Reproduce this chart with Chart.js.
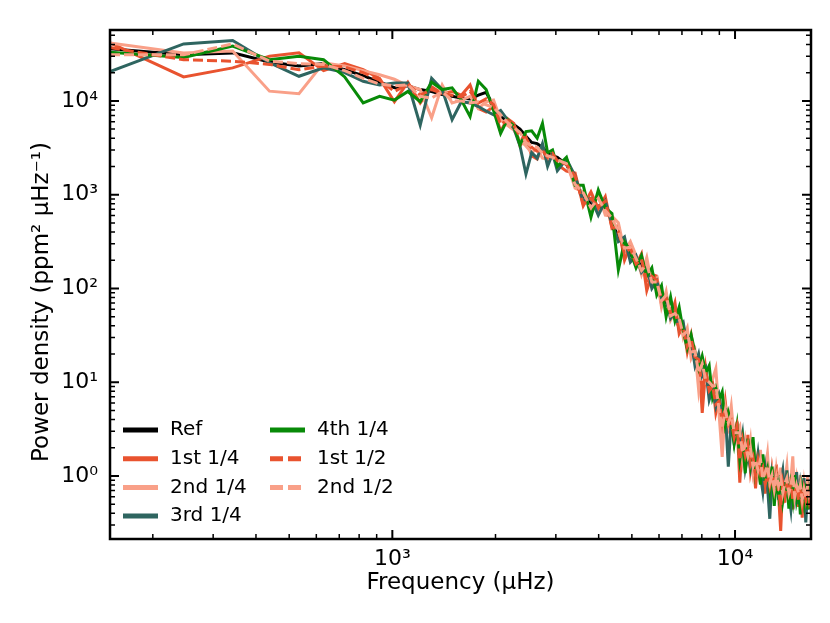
<!DOCTYPE html>
<html>
<head>
<meta charset="utf-8">
<script src="https://cdn.jsdelivr.net/npm/chart.js@4.4.1/dist/chart.umd.min.js"></script>
<style>
  body { margin: 0; background: #fff; }
  #boite { width: 830px; height: 623px; }
</style>
</head>
<body>
<div id="boite"><canvas id="chart" width="830" height="623"></canvas></div>
<script>
// frequences (microHz)
const freq = [150,246,342,438,534,630,726,822,918,1014,1110,1206,1302,1398,1494,1590,1686,1782,1878,1974,2070,2166,2262,2358,2454,2550,2646,2742,2838,2934,3030,
  3222,3414,3606,3798,3990,4182,4374,4566,4758,4950,5142,5334,5526,5718,5910,6102,6294,6486,6678,6870,7062,7254,7446,7638,7830,8022,8214,8406,8598,8790,8982,
  9174,9366,9558,9750,9942,10134,10326,10518,10710,10902,11094,11286,11478,11670,11862,12054,12246,12438,12630,12822,13014,13206,13398,13590,13782,13974,
  14166,14358,14550,14742,14934,15126,15318,15510,15702,15894,16086,16278,16470,16662];

const ref = [36000,31000,32500,26000,23500,25000,21500,18600,15800,13800,14500,13200,12600,11700,11200,10700,10500,11500,12300,8900,6800,6000,5600,5000,4200,3600,3500,3200,2800,2600,2500,
  2100,1350,980,794,759,724,537,339,288,229,204,174,155,123,110,85,72,56,51,43,35,31,25,20,16,13.5,11,9.3,7.4,6.8,5.6,5.1,4.3,4.1,3.5,3.2,2.6,2.45,2.1,1.95,
  1.7,1.62,1.41,1.35,1.2,1.17,1.05,1.05,0.95,0.95,0.87,0.87,0.81,0.81,0.76,0.78,0.72,0.74,0.69,0.71,0.68,0.69,0.65,0.68,0.63,0.66,0.62,0.65,0.60,0.63,0.62];

const quart1 = [41500,18000,22500,30000,32500,21000,25000,21500,17400,9800,15800,9500,14100,12000,12600,11500,14800,8300,7600,8700,4700,6500,5750,3300,4100,2600,2400,3300,2250,2800,2100,
  1780,1700,760,1070,710,955,437,468,200,288,178,234,95,141,135,68,85,51,71,33,40,21,32,18,19,4.7,14,7.6,10,4.7,6.5,3.2,6.2,3.2,4.0,2.4,3.8,0.85,2.6,1.5,
  2.75,1.12,1.6,0.74,1.7,1.02,1.35,0.65,1.1,0.66,1.17,0.76,1.32,0.63,0.26,0.85,0.52,0.91,0.63,0.98,0.44,0.68,0.87,0.47,0.72,0.36,0.79,0.52,0.87,0.47,0.69];

const quart2 = [41500,32500,34000,12700,11900,25500,23500,21000,19000,17000,14500,13200,6600,14800,9500,10200,11200,8300,9800,10200,6300,5500,4900,3800,3300,2800,3100,2450,2400,2500,2300,
  2240,1170,1070,676,1050,603,589,501,251,316,224,141,214,112,129,63,93,46,56,55,30,38,18,22,8.3,17,10,11,10.7,14,4.6,1.6,5.5,3.5,5.6,2.6,3.0,3.4,1.5,2.4,
  1.55,2.4,1.1,1.6,1.1,1.9,0.85,1.15,1.74,0.78,1.12,0.60,1.17,0.79,1.23,0.60,0.89,1.29,0.63,0.91,1.62,0.56,0.93,0.69,1.02,0.51,0.83,0.56,0.98,0.65,0.78];

const quart3 = [20500,40500,44000,25500,18300,22500,20000,16200,14800,15500,15500,5500,17400,13200,6300,9800,9500,8700,7800,7100,7900,6300,5100,3300,1660,2800,2450,3500,2000,2750,1800,
  2400,1580,851,912,603,851,490,316,355,191,224,148,170,100,120,79,79,48,56,37,43,24,28,15,20,11.7,14,6.5,8.5,5.5,7.2,4.5,4.9,1.26,4.0,2.24,3.0,1.9,2.8,1.2,
  1.74,1.2,1.8,1.1,1.74,1.02,0.68,1.23,0.78,0.35,1.0,0.71,1.1,0.56,0.87,1.15,0.59,1.15,0.63,0.44,0.87,0.60,1.1,0.50,0.81,0.58,0.95,0.32,0.69,0.44,0.74];

const quart4 = [33000,29000,38500,27500,30000,27500,18000,9500,11200,10200,12600,9800,15800,13200,13800,10200,6800,16200,13200,7900,4500,6300,5400,3400,4700,4800,4000,5750,2800,3000,2000,
  2500,1260,1260,575,1120,724,631,158,316,251,166,224,135,166,85,107,50,81,45,63,35,23,32,21,14,19,12.6,15,6.8,8.7,6.5,7.9,3.5,4.8,3.7,2.2,3.5,1.5,2.4,1.07,
  2.5,1.4,2.6,1.05,1.4,0.81,1.7,0.91,1.17,0.71,1.26,0.48,0.93,0.63,1.02,0.54,0.74,0.91,0.45,0.78,0.55,1.02,0.59,0.83,0.39,0.72,0.52,0.83,0.44,0.69,0.55];

const moitie1 = [37000,27500,26500,24500,21500,23500,23000,20000,16600,12600,15100,11500,13200,12000,11500,11000,12600,9500,10500,9100,5600,6200,5500,4200,4000,3200,2900,2950,2500,2750,2300,
  2100,1580,794,912,741,851,457,407,234,269,182,204,120,135,123,74,79,54,60,36,38,24,29,18.6,17.4,8.3,12.9,8.1,9.1,5.8,6.3,3.8,5.2,3.5,3.9,2.6,3.4,1.5,2.4,1.66,
  2.2,1.32,1.58,1.0,1.48,1.07,1.23,0.81,1.07,0.78,1.02,0.78,1.05,0.69,0.47,0.83,0.62,0.83,0.66,0.83,0.55,0.68,0.76,0.55,0.69,0.49,0.72,0.56,0.74,0.54,0.66];

const moitie2 = [31000,31000,40500,26500,25000,24500,21000,17400,15100,14500,14800,11200,10700,12600,10000,10000,9500,9800,9100,8500,7100,5900,5200,4600,3600,3300,3200,2750,2600,2500,2350,
  2140,1290,1050,724,912,676,562,407,269,275,209,155,182,117,117,74,85,51,54,48,32,35,21,21.4,12.6,15.8,10.5,10,9.1,9.3,5.1,3.2,5.0,3.7,4.5,2.9,2.9,2.9,1.78,2.2,
  1.62,2.0,1.26,1.48,1.15,1.51,0.93,1.1,1.29,0.85,1.02,0.71,1.0,0.79,0.98,0.66,0.83,0.95,0.66,0.79,1.05,0.60,0.79,0.66,0.81,0.56,0.72,0.59,0.78,0.62,0.69];

const xTicks = [1000, 10000];
const yTicks = [1, 10, 100, 1000, 10000];

const police = 'DejaVu Sans';
const exposants = {'-': '⁻', '0': '⁰', '1': '¹', '2': '²', '3': '³', '4': '⁴', '5': '⁵'};
function puissance(v) {
  const e = String(Math.round(Math.log10(v)));
  return '10' + e.split('').map(c => exposants[c]).join('');
}

const series = [
  {label: 'Ref',     data: ref,     color: '#000000', dash: [],     ordre: 6},
  {label: '1st 1/4', data: quart1,  color: '#E9532F', dash: [],     ordre: 5},
  {label: '2nd 1/4', data: quart2,  color: '#F9A088', dash: [],     ordre: 4},
  {label: '3rd 1/4', data: quart3,  color: '#2E6560', dash: [],     ordre: 3},
  {label: '4th 1/4', data: quart4,  color: '#088A08', dash: [],     ordre: 2},
  {label: '1st 1/2', data: moitie1, color: '#E9532F', dash: [10, 4], ordre: 1},
  {label: '2nd 1/2', data: moitie2, color: '#F9A088', dash: [10, 4], ordre: 0}
];

function points(vals) {
  return freq.map((f, i) => ({x: f, y: vals[i]}));
}

// cadre + graduations vers l'interieur, comme matplotlib
const cadre = {
  id: 'cadre',
  afterDraw(chart) {
    const {ctx, chartArea: a, scales: {x, y}} = chart;
    ctx.save();
    ctx.strokeStyle = '#000';
    for (let d = 100; d <= 10000; d *= 10) {
      for (let k = 1; k < 10; k++) {
        const v = d * k;
        if (v < x.min || v > x.max) continue;
        const px = x.getPixelForValue(v);
        const len = k === 1 ? 9 : 5;
        ctx.lineWidth = k === 1 ? 2 : 1.5;
        ctx.beginPath();
        ctx.moveTo(px, a.bottom); ctx.lineTo(px, a.bottom - len);
        ctx.moveTo(px, a.top); ctx.lineTo(px, a.top + len);
        ctx.stroke();
      }
    }
    for (let e = -1; e <= 4; e++) {
      for (let k = 1; k < 10; k++) {
        const v = k * Math.pow(10, e);
        if (v < y.min || v > y.max) continue;
        const py = y.getPixelForValue(v);
        const len = k === 1 ? 9 : 5;
        ctx.lineWidth = k === 1 ? 2 : 1.5;
        ctx.beginPath();
        ctx.moveTo(a.left, py); ctx.lineTo(a.left + len, py);
        ctx.moveTo(a.right, py); ctx.lineTo(a.right - len, py);
        ctx.stroke();
      }
    }
    ctx.lineWidth = 2.5;
    ctx.strokeRect(a.left, a.top, a.right - a.left, a.bottom - a.top);

    // titre de l'axe y
    ctx.translate(42, 302);
    ctx.rotate(-Math.PI / 2);
    ctx.fillStyle = '#000';
    ctx.font = '23px "' + police + '"';
    ctx.textAlign = 'center';
    ctx.textBaseline = 'middle';
    ctx.fillText('Power density (ppm² μHz⁻¹)', 0, 0);
    ctx.restore();
  }
};

// legende sur deux colonnes dans le coin bas gauche
const legende = {
  id: 'legende',
  afterDraw(chart) {
    const ctx = chart.ctx;
    ctx.save();
    ctx.font = '20px "' + police + '"';
    ctx.textBaseline = 'middle';
    ctx.fillStyle = '#000';
    series.forEach((s, i) => {
      const col = i < 4 ? 0 : 1;
      const row = i < 4 ? i : i - 4;
      const x0 = col === 0 ? 123 : 270;
      const yy = 430 + row * 28.7;
      ctx.strokeStyle = s.color;
      ctx.lineWidth = 5;
      ctx.setLineDash(s.dash.length ? [13, 5] : []);
      ctx.beginPath();
      ctx.moveTo(x0, yy);
      ctx.lineTo(x0 + 35, yy);
      ctx.stroke();
      ctx.fillText(s.label, x0 + 47, yy);
    });
    ctx.restore();
  }
};

new Chart(document.getElementById('chart'), {
  type: 'line',
  data: {
    datasets: series.map(s => ({
      label: s.label,
      data: points(s.data),
      borderColor: s.color,
      borderWidth: 3,
      borderDash: s.dash,
      pointRadius: 0,
      tension: 0,
      fill: false,
      order: s.ordre
    }))
  },
  options: {
    responsive: false,
    animation: false,
    devicePixelRatio: 1,
    layout: { padding: { top: 30, right: 19, left: 0, bottom: 0 } },
    plugins: { legend: { display: false }, tooltip: { enabled: false } },
    scales: {
      x: {
        type: 'logarithmic',
        min: 150,
        max: 16660,
        grid: { display: false, drawTicks: false },
        border: { display: false },
        afterBuildTicks: s => { s.ticks = xTicks.map(v => ({value: v})); },
        afterFit: s => { s.height = 84; },
        ticks: {
          callback: v => puissance(v),
          color: '#000',
          font: { family: police, size: 22 },
          padding: 7,
          maxRotation: 0,
          autoSkip: false
        },
        title: {
          display: true,
          text: 'Frequency (μHz)',
          color: '#000',
          font: { family: police, size: 23 },
          padding: { top: 0, bottom: 26 }
        }
      },
      y: {
        type: 'logarithmic',
        min: 0.213,
        max: 57000,
        grid: { display: false, drawTicks: false },
        border: { display: false },
        afterBuildTicks: s => { s.ticks = yTicks.map(v => ({value: v})); },
        afterFit: s => { s.width = 110; },
        ticks: {
          callback: v => puissance(v),
          color: '#000',
          font: { family: police, size: 22 },
          padding: 12,
          autoSkip: false
        }
      }
    }
  },
  plugins: [cadre, legende]
});
</script>
</body>
</html>
